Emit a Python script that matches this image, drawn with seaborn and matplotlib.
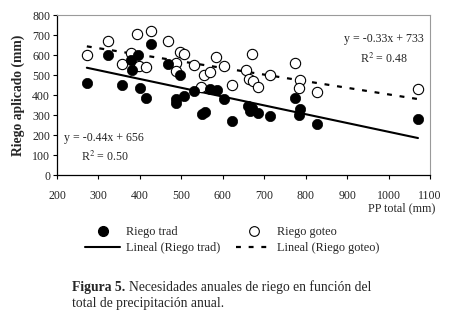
import matplotlib
matplotlib.use("Agg")
import matplotlib.pyplot as plt
import seaborn as sns
import numpy as np
import pandas as pd
from matplotlib.lines import Line2D
from matplotlib.transforms import offset_copy

# Precipitación total anual (mm) y riego aplicado (mm)
pp_trad = [272, 324, 358, 378, 382, 395, 401, 414, 427, 468, 486, 486, 497, 507,
           531, 549, 557, 569, 585, 602, 623, 660, 670, 665, 684, 713, 774, 787,
           785, 828, 1071]
riego_trad = [462, 601, 448, 576, 527, 602, 433, 386, 654, 556, 381, 361, 498, 395,
              420, 306, 316, 428, 425, 380, 272, 345, 335, 320, 310, 296, 387, 331,
              302, 254, 279]

pp_goteo = [272, 323, 358, 379, 394, 399, 414, 428, 468, 487, 486, 497, 506, 530,
            547, 555, 568, 584, 603, 622, 657, 671, 664, 673, 684, 714, 774, 787,
            784, 828, 1071]
riego_goteo = [601, 669, 554, 612, 706, 546, 542, 721, 672, 562, 520, 614, 605, 552,
               442, 502, 517, 588, 544, 448, 525, 607, 482, 468, 440, 502, 559, 474,
               434, 417, 430]

# Ajustes lineales indicados en el gráfico
slope_trad, icpt_trad, r2_trad = -0.44, 656, 0.50
slope_goteo, icpt_goteo, r2_goteo = -0.33, 733, 0.48

x_ticks = [200, 300, 400, 500, 600, 700, 800, 900, 1000, 1100]
y_ticks = [0, 100, 200, 300, 400, 500, 600, 700, 800]

sns.set_theme(style="white")
plt.rcParams["font.family"] = ["Liberation Serif", "DejaVu Serif"]
plt.rcParams["mathtext.fontset"] = "stix"

fig = plt.figure(figsize=(4.52, 3.34), dpi=100)
ax = fig.add_axes([57 / 452, 1 - 175 / 334, (430 - 57) / 452, (175 - 15) / 334])

df_t = pd.DataFrame({"pp": pp_trad, "riego": riego_trad})
df_g = pd.DataFrame({"pp": pp_goteo, "riego": riego_goteo})

DASH = (0, (2.2, 3.5))

# Rectas de tendencia
xt = np.array([min(pp_trad), max(pp_trad)])
xg = np.array([min(pp_goteo), max(pp_goteo)])
sns.lineplot(x=xt, y=slope_trad * xt + icpt_trad, ax=ax, color="black", lw=1.5,
             zorder=2)
ax.plot(xg, slope_goteo * xg + icpt_goteo, color="black", lw=1.6,
        linestyle=DASH, zorder=2)

sns.scatterplot(data=df_g, x="pp", y="riego", ax=ax, s=55, marker="o",
                facecolor="white", edgecolor="black", linewidth=0.8, zorder=3)
sns.scatterplot(data=df_t, x="pp", y="riego", ax=ax, s=55, marker="o",
                color="black", edgecolor="black", linewidth=0.5, zorder=4)

ax.set_xlim(200, 1100)
ax.set_ylim(0, 800)
ax.set_xticks(x_ticks)
ax.set_yticks(y_ticks)
ax.tick_params(axis="both", labelsize=8.6, direction="out", length=3, width=0.8,
               color="black", pad=2, bottom=True, left=True)
ax.tick_params(axis="x", pad=8)
ax.set_xlabel("")
ax.set_ylabel("Riego aplicado (mm)", fontsize=9.8, fontweight="bold", labelpad=5)

for side in ["left", "bottom"]:
    ax.spines[side].set_color("black")
    ax.spines[side].set_linewidth(0.9)
for side in ["top", "right"]:
    ax.spines[side].set_color("#9a9a9a")
    ax.spines[side].set_linewidth(0.8)

EQ_FS = 8.6
fig.text(104 / 452, 1 - 138 / 334, f"y = {slope_trad:.2f}x + {icpt_trad}",
         ha="center", va="center", fontsize=EQ_FS)
fig.text(105 / 452, 1 - 157 / 334, f"R$^2$ = {r2_trad:.2f}",
         ha="center", va="center", fontsize=EQ_FS)
fig.text(384 / 452, 1 - 39 / 334, f"y = {slope_goteo:.2f}x + {icpt_goteo}",
         ha="center", va="center", fontsize=EQ_FS)
fig.text(384 / 452, 1 - 59 / 334, f"R$^2$ = {r2_goteo:.2f}",
         ha="center", va="center", fontsize=EQ_FS)

fig.text(435 / 452, 1 - 208 / 334, "PP total (mm)", ha="right", va="center",
         fontsize=8.7)

handles = [
    Line2D([], [], marker="o", ls="none", color="black", markersize=7),
    Line2D([], [], color="black", lw=1.5),
    Line2D([], [], marker="o", ls="none", markerfacecolor="white",
           markeredgecolor="black", markersize=7, markeredgewidth=0.8),
    Line2D([], [], color="black", lw=1.6, linestyle=DASH),
]
labels = ["Riego trad", "Lineal (Riego trad)", "Riego goteo",
          "Lineal (Riego goteo)"]
fig.legend(handles, labels, loc="center", bbox_to_anchor=(232 / 452, 1 - 240 / 334),
           ncol=2, frameon=False, fontsize=8.8, handlelength=2.9, handletextpad=0.45,
           columnspacing=1.3, labelspacing=0.3, borderpad=0)

# Pie de figura: "Figura 5." en negrita seguido del texto normal
CAP_FS = 9.8
fig.canvas.draw()
t_bold = fig.text(72 / 452, 1 - 287 / 334, "Figura 5.", fontsize=CAP_FS,
                  fontweight="bold", ha="left", va="center")
w_bold = t_bold.get_window_extent(renderer=fig.canvas.get_renderer()).width
fig.text(72 / 452, 1 - 287 / 334, "Necesidades anuales de riego en función del",
         fontsize=CAP_FS, ha="left", va="center",
         transform=offset_copy(fig.transFigure, fig=fig, x=w_bold + 3.5,
                               units="dots"))
fig.text(72 / 452, 1 - 303 / 334, "total de precipitación anual.", fontsize=CAP_FS,
         ha="left", va="center")

fig.savefig("out.png", dpi=100)
